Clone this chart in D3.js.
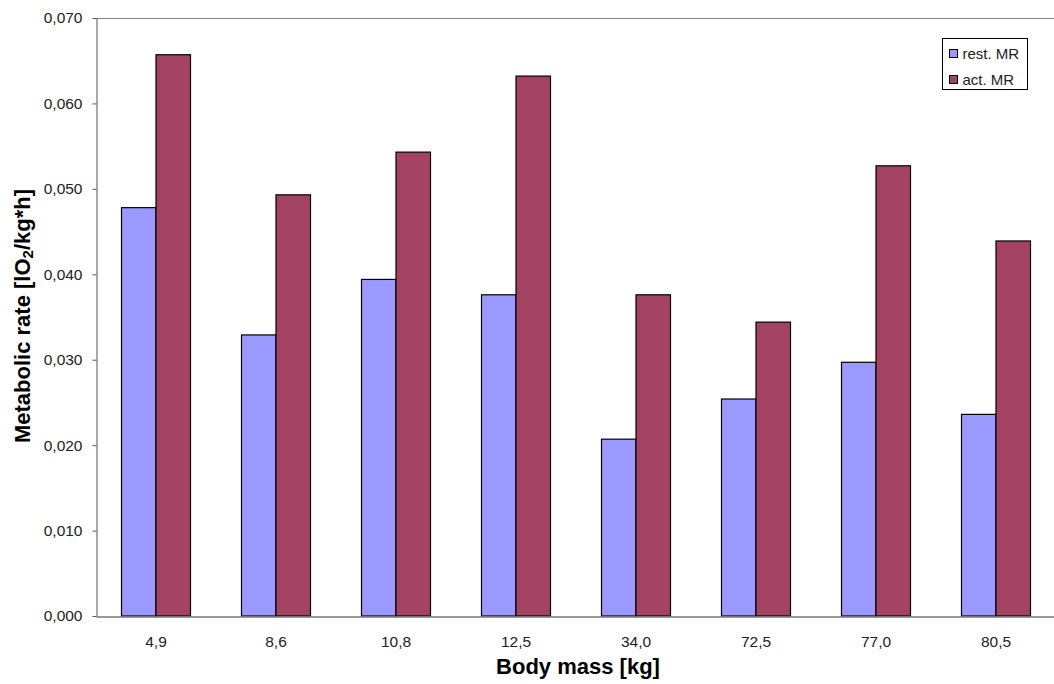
<!DOCTYPE html>
<html><head><meta charset="utf-8">
<script src="https://cdn.jsdelivr.net/npm/d3@7/dist/d3.min.js"></script>
<style>body{margin:0;background:#fff}svg{display:block}</style>
</head><body><svg id="c" width="1054" height="684"></svg>
<script>
const categories = ["4,9","8,6","10,8","12,5","34,0","72,5","77,0","80,5"];
const restMR = [0.0478,0.0329,0.0394,0.0376,0.0207,0.0254,0.0297,0.0236];
const actMR  = [0.0657,0.0493,0.0543,0.0632,0.0376,0.0344,0.0527,0.0439];
const seriesNames = ["rest. MR","act. MR"];
const yTicks = [0,0.01,0.02,0.03,0.04,0.05,0.06,0.07];

const colors = ["#9999FF","#A34263"];
const FONT = "Liberation Sans, Arial, sans-serif";
const svg = d3.select("#c");
const L=96, R=1056, T=18, B=616;
const x = d3.scaleBand().domain(categories).range([L,R]).paddingInner(0).paddingOuter(0);
const y = d3.scaleLinear().domain([0,0.07]).range([B,T]);
const fmt = v => d3.format(".3f")(v).replace(".",",");

svg.append("line").attr("x1",L).attr("x2",R).attr("y1",T+0.5).attr("y2",T+0.5).attr("stroke","#808080");
const yAx = svg.append("g").attr("transform",`translate(${L+0.5},0)`)
  .call(d3.axisLeft(y).tickValues(yTicks).tickFormat(fmt).tickSize(4).tickSizeOuter(0));
yAx.select(".domain").attr("stroke","#555");
yAx.selectAll(".tick line").attr("stroke","#555");
yAx.selectAll("text").attr("x",-14).attr("font-family",FONT).attr("font-size",15.5).attr("fill","#222");

const inner = d3.scaleBand().domain([0,1]).range([0,69]);
const groups = svg.append("g").selectAll("g").data(categories).join("g")
  .attr("transform",d=>`translate(${x(d)+x.bandwidth()/2-34.5},0)`);
[restMR,actMR].forEach((arr,si)=>{
  groups.append("rect")
    .attr("x",inner(si)).attr("width",inner.bandwidth())
    .attr("y",(d,i)=>y(arr[i])).attr("height",(d,i)=>B-y(arr[i]))
    .attr("fill",colors[si]).attr("stroke","#000").attr("stroke-width",1.2);
});

const xAx = svg.append("g").attr("transform",`translate(0,${B+0.5})`)
  .call(d3.axisBottom(x).tickSize(0).tickSizeOuter(0));
xAx.select(".domain").attr("stroke","#777").attr("stroke-width",1.5);
xAx.selectAll("text").attr("dy","1.75em").attr("font-family",FONT).attr("font-size",15.5).attr("fill","#222");

svg.append("text").attr("x",578).attr("y",674).attr("text-anchor","middle")
  .attr("font-family",FONT).attr("font-weight","bold").attr("font-size",22)
  .text("Body mass [kg]");
const yl = svg.append("text").attr("transform","translate(30,316) rotate(-90)").attr("text-anchor","middle")
  .attr("font-family",FONT).attr("font-weight","bold").attr("font-size",22);
yl.append("tspan").text("Metabolic rate [lO");
yl.append("tspan").attr("font-size",15).attr("dy",3).text("2");
yl.append("tspan").attr("dy",-3).text("/kg*h]");

const lg = svg.append("g").attr("transform","translate(942.5,38.5)");
lg.append("rect").attr("width",85).attr("height",51).attr("fill","#fff").attr("stroke","#000");
seriesNames.forEach((n,i)=>{
  lg.append("rect").attr("x",7).attr("y",11+i*26).attr("width",8).attr("height",8).attr("fill",colors[i]).attr("stroke","#000");
  lg.append("text").attr("x",20).attr("y",20+i*26).attr("font-family",FONT).attr("font-size",15).attr("fill","#222").text(n);
});
</script></body></html>
